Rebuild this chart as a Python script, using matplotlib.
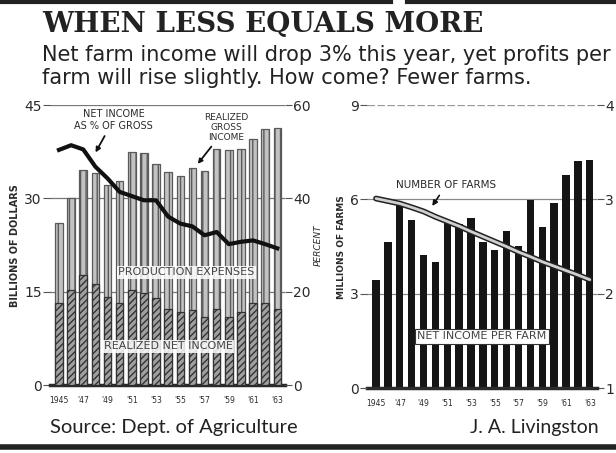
import matplotlib.pyplot as plt
import numpy as np
from matplotlib.lines import Line2D

# data (1945-1963)
years = list(range(1945, 1964))
gross_income = [26.0, 30.0, 34.6, 34.1, 32.1, 32.8, 37.4, 37.3, 35.5,
                34.2, 33.6, 34.9, 34.4, 38.0, 37.8, 38.0, 39.5, 41.1, 41.3]
net_income = [13.2, 15.3, 17.7, 16.3, 14.2, 13.2, 15.3, 14.8, 14.0,
              12.3, 11.8, 12.0, 11.0, 12.3, 11.0, 11.8, 13.2, 13.2, 12.3]
net_pct = [50.4, 51.4, 50.5, 46.8, 44.3, 41.4, 40.5, 39.6, 39.6,
           36.1, 34.6, 34.0, 32.1, 32.8, 30.2, 30.7, 31.0, 30.2, 29.3]
farms = [6.03, 5.95, 5.87, 5.75, 5.62, 5.45, 5.30, 5.15, 4.98,
         4.82, 4.66, 4.50, 4.33, 4.18, 4.02, 3.88, 3.74, 3.60, 3.45]
per_farm = [2.15, 2.55, 2.94, 2.78, 2.41, 2.34, 2.76, 2.74, 2.80,
            2.55, 2.46, 2.67, 2.51, 2.99, 2.71, 2.96, 3.26, 3.41, 3.42]
year_labels = ['1945', "'47", "'49", "'51", "'53", "'55", "'57", "'59", "'61", "'63"]

ink = '#2a2a2a'
x = np.arange(len(years))

fig = plt.figure(figsize=(6.16, 4.53), dpi=100)

# ---- left chart
ax = fig.add_axes([0.081, 0.150, 0.381, 0.618])
ax.bar(x, gross_income, width=0.62, color='#c2c2c2', edgecolor='#5a5a5a',
       hatch='|||', linewidth=0.9, zorder=2)
ax.bar(x, net_income, width=0.62, color='#a0a0a0', edgecolor='#333333',
       hatch='/////', linewidth=0.9, zorder=3)
ax.set_ylim(0, 45)
ax.set_xlim(-0.75, len(years) - 0.4)
for v in (15, 30, 45):
    ax.axhline(v, color='#777', lw=0.9, zorder=1)
ax.set_yticks([0, 15, 30, 45])
ax.set_yticklabels(['0', '15', '30', '45'])
ax.set_xticks(x[::2])
ax.set_xticklabels(year_labels)
ax.tick_params(axis='y', length=5, color='#555', labelsize=10, labelcolor=ink, pad=1)
ax.tick_params(axis='x', length=0, labelsize=5.5, labelcolor=ink, pad=8)
for s in ('left', 'right', 'top'):
    ax.spines[s].set_visible(False)
ax.spines['bottom'].set_linewidth(2.5)
ax.spines['bottom'].set_color(ink)
ax.set_ylabel('BILLIONS OF DOLLARS', fontsize=7, color=ink, fontweight='bold', labelpad=3)

axp = ax.twinx()
axp.plot(x, net_pct, color='#111', lw=3, zorder=5, solid_joinstyle='round')
axp.set_ylim(0, 60)
axp.set_yticks([0, 20, 40, 60])
axp.tick_params(axis='y', length=5, color='#555', labelsize=10, labelcolor=ink, pad=1)
for s in ('left', 'right', 'top', 'bottom'):
    axp.spines[s].set_visible(False)
axp.set_ylabel('PERCENT', fontsize=6.5, color=ink, style='italic', labelpad=2)

ax.annotate('NET INCOME\nAS % OF GROSS', xy=(2.9, 37.0), xytext=(4.5, 42.6),
            ha='center', va='center', fontsize=7, color=ink, linespacing=1.2,
            arrowprops=dict(arrowstyle='-|>', color='#111', lw=1.3), zorder=6)
ax.annotate('REALIZED\nGROSS\nINCOME', xy=(11.3, 35.2), xytext=(13.8, 41.4),
            ha='center', va='center', fontsize=6.5, color=ink, linespacing=1.1,
            arrowprops=dict(arrowstyle='-|>', color='#111', lw=1.3), zorder=6)
ax.text(10.5, 18.1, 'PRODUCTION EXPENSES', ha='center', va='center', fontsize=8,
        color='#444', zorder=6,
        bbox=dict(boxstyle='square,pad=0.15', fc='white', ec='none', alpha=0.85))
ax.text(9.0, 6.2, 'REALIZED NET INCOME', ha='center', va='center', fontsize=8,
        color='#444', zorder=6,
        bbox=dict(boxstyle='square,pad=0.15', fc='white', ec='none', alpha=0.85))

# ---- right chart
axr = fig.add_axes([0.596, 0.143, 0.373, 0.625])
axb = axr.twinx()
axb.bar(x, [v - 1 for v in per_farm], bottom=1, width=0.62, color='#151515', zorder=2)
axb.set_ylim(1, 4)
axb.set_yticks([1, 2, 3, 4])
axb.tick_params(axis='y', length=5, color='#555', labelsize=10, labelcolor=ink, pad=1)

axr.set_zorder(axb.get_zorder() + 1)
axr.patch.set_visible(False)
axr.plot(x, farms, color='#222', lw=4.2, zorder=4, solid_capstyle='round')
axr.plot(x, farms, color='#d0d0d0', lw=2.0, zorder=5, solid_capstyle='round')
axr.set_ylim(0, 9)
axr.set_xlim(-0.75, len(years) - 0.4)
axr.set_yticks([0, 3, 6, 9])
axr.set_xticks(x[::2])
axr.set_xticklabels(year_labels)
axr.tick_params(axis='y', length=5, color='#555', labelsize=10, labelcolor=ink, pad=1)
axr.tick_params(axis='x', length=0, labelsize=5.5, labelcolor=ink, pad=8)
axr.set_ylabel('MILLIONS OF FARMS', fontsize=6.5, color=ink, fontweight='bold', labelpad=3)
for a in (axr, axb):
    for s in ('left', 'right', 'top'):
        a.spines[s].set_visible(False)
axr.spines['bottom'].set_visible(False)
axb.spines['bottom'].set_linewidth(2.5)
axb.spines['bottom'].set_color(ink)
for v in (3, 6):
    axb.axhline(1 + v / 3, color='#888', lw=0.9, zorder=1)
axb.axhline(4, color='#999', lw=0.9, ls=(0, (6, 2)), zorder=1)

axr.annotate('NUMBER OF FARMS', xy=(4.6, 5.72), xytext=(5.9, 6.45),
             ha='center', va='center', fontsize=7.5, color=ink,
             arrowprops=dict(arrowstyle='-|>', color='#111', lw=1.2), zorder=6)
axr.text(8.9, 1.65, 'NET INCOME PER FARM', ha='center', va='center', fontsize=8,
         color='#444', zorder=6,
         bbox=dict(boxstyle='square,pad=0.2', fc='white', ec='#333', lw=0.8))

# ---- headings
fig.text(0.068, 0.945, 'WHEN LESS EQUALS MORE', fontsize=20, fontweight='bold',
         family='DejaVu Serif', color='#222', va='center')
fig.text(0.068, 0.879, 'Net farm income will drop 3% this year, yet profits per',
         fontsize=15, family='DejaVu Sans', color='#222', va='center')
fig.text(0.068, 0.828, 'farm will rise slightly. How come? Fewer farms.',
         fontsize=15, family='DejaVu Sans', color='#222', va='center')
fig.text(0.081, 0.057, 'Source: Dept. of Agriculture', fontsize=14.5,
         family='Lato', color='#222', va='center')
fig.text(0.971, 0.057, 'J. A. Livingston', fontsize=14, family='Lato',
         color='#222', va='center', ha='right')

fig.add_artist(Line2D([0, 0.635], [0.996, 0.996], color='#222', lw=3))
fig.add_artist(Line2D([0.66, 1], [0.996, 0.996], color='#222', lw=3))
fig.add_artist(Line2D([0, 1], [0.013, 0.013], color='#222', lw=4))

fig.savefig('out.png', dpi=100)
